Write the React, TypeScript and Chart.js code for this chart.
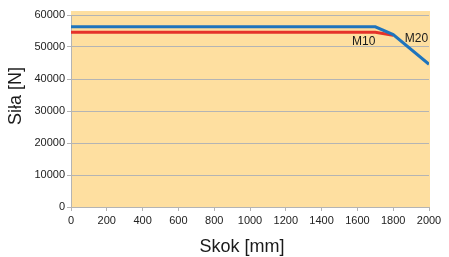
import React, { useEffect, useRef } from "react";
import { Chart, registerables } from "chart.js";

Chart.register(...registerables);

// Data (stroke in mm, force in N)
const m20Stroke = [0, 1700, 1800, 2000];
const m20Force = [56300, 56300, 53900, 44600];
const m10Stroke = [0, 1700, 1800];
const m10Force = [54600, 54600, 53700];
const seriesNames = ["M20", "M10"];
const yTicks = [0, 10000, 20000, 30000, 40000, 50000, 60000];
const xTicks = [0, 200, 400, 600, 800, 1000, 1200, 1400, 1600, 1800, 2000];
// Curve labels anchored in data units: [text, stroke, force]
const labelTexts = ["M10", "M20"];
const labelStroke = [1570, 1865];
const labelForce = [50600, 51700];
const xTitle = "Skok [mm]";
const yTitle = "Siła [N]";

const FONT = '"Liberation Sans", Arial, Helvetica, sans-serif';

const bgPlugin = {
  id: "bgPlugin",
  beforeDraw(chart: any) {
    const { ctx, chartArea } = chart;
    ctx.save();
    ctx.fillStyle = "rgb(254,223,160)";
    ctx.fillRect(chartArea.left, chartArea.top - 4, chartArea.right - chartArea.left + 1, chartArea.bottom - chartArea.top + 4);
    ctx.restore();
  },
};

const textPlugin = {
  id: "textPlugin",
  afterDraw(chart: any) {
    const { ctx } = chart;
    const xs = chart.scales.x;
    const ys = chart.scales.y;
    ctx.save();
    ctx.fillStyle = "#1a1a1a";
    ctx.font = `12px ${FONT}`;
    ctx.textAlign = "left";
    ctx.textBaseline = "alphabetic";
    labelTexts.forEach((t, i) => {
      ctx.fillText(t, xs.getPixelForValue(labelStroke[i]), ys.getPixelForValue(labelForce[i]));
    });
    ctx.font = `18px ${FONT}`;
    ctx.textAlign = "center";
    ctx.textBaseline = "middle";
    ctx.fillText(xTitle, 242, 247);
    ctx.translate(16, 96);
    ctx.rotate(-Math.PI / 2);
    ctx.fillText(yTitle, 0, 0);
    ctx.restore();
  },
};

export default function App() {
  const ref = useRef<HTMLCanvasElement>(null);
  useEffect(() => {
    if (!ref.current) return;
    const grid = "#b4b4b4";
    const chart = new Chart(ref.current, {
      type: "line",
      data: {
        datasets: [
          {
            label: seriesNames[0],
            data: m20Stroke.map((x, i) => ({ x, y: m20Force[i] })),
            borderColor: "#1f74bd",
            borderWidth: 3,
            pointRadius: 0,
            tension: 0,
          },
          {
            label: seriesNames[1],
            data: m10Stroke.map((x, i) => ({ x, y: m10Force[i] })),
            borderColor: "#e5322a",
            borderWidth: 3,
            pointRadius: 0,
            tension: 0,
          },
        ],
      },
      options: {
        animation: false,
        responsive: false,
        devicePixelRatio: 1,
        layout: { padding: { left: 0, right: 20, top: 15, bottom: 0 } },
        plugins: { legend: { display: false }, tooltip: { enabled: false } },
        scales: {
          x: {
            type: "linear",
            min: 0,
            max: 2000,
            afterFit: (s: any) => { s.height = 50; },
            afterBuildTicks: (s: any) => { s.ticks = xTicks.map((v) => ({ value: v })); },
            ticks: { font: { family: FONT, size: 11 }, color: "#222", padding: 3, maxRotation: 0, autoSkip: false, callback: (v: any) => String(v) },
            grid: { drawOnChartArea: false, drawTicks: true, tickLength: 4, color: grid },
            border: { display: true, color: grid },
          },
          y: {
            type: "linear",
            min: 0,
            max: 60000,
            afterFit: (s: any) => { s.width = 71; },
            afterBuildTicks: (s: any) => { s.ticks = yTicks.map((v) => ({ value: v })); },
            ticks: { font: { family: FONT, size: 11 }, color: "#222", padding: 2, autoSkip: false, callback: (v: any) => String(v) },
            grid: { drawOnChartArea: true, drawTicks: true, tickLength: 4, color: grid },
            border: { display: true, color: grid },
          },
        },
      },
      plugins: [bgPlugin, textPlugin],
    });
    return () => chart.destroy();
  }, []);
  return (
    <div style={{ position: "absolute", left: 0, top: 0, width: 449, height: 257, background: "#fff" }}>
      <canvas ref={ref} width={449} height={257} style={{ width: 449, height: 257, display: "block" }} />
    </div>
  );
}
